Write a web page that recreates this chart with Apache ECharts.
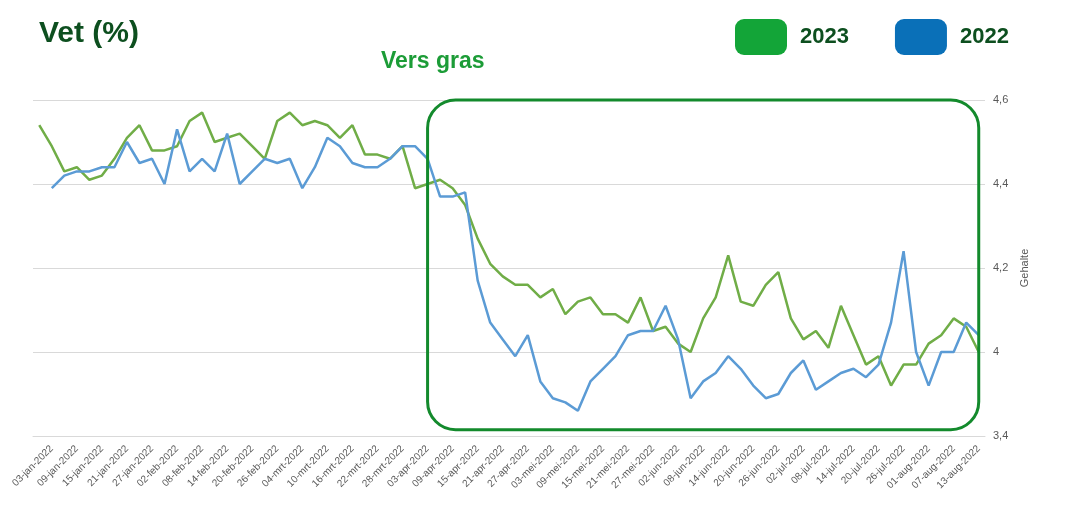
<!DOCTYPE html>
<html lang="nl">
<head>
<meta charset="UTF-8">
<title>Vet (%)</title>
<script src="https://cdn.jsdelivr.net/npm/echarts@6/dist/echarts.min.js"></script>
<style>
  html, body { margin: 0; padding: 0; background: #fff; }
  #main { width: 1070px; height: 508px; }
</style>
</head>
<body>
<div id="main"></div>
<script>
// categorie-as: elke 3 dagen, label op elke tweede
var categories = [
  '31-dec-2021', '03-jan-2022', '06-jan-2022', '09-jan-2022', '12-jan-2022', '15-jan-2022', '18-jan-2022', '21-jan-2022',
  '24-jan-2022', '27-jan-2022', '30-jan-2022', '02-feb-2022', '05-feb-2022', '08-feb-2022', '11-feb-2022', '14-feb-2022',
  '17-feb-2022', '20-feb-2022', '23-feb-2022', '26-feb-2022', '01-mrt-2022', '04-mrt-2022', '07-mrt-2022', '10-mrt-2022',
  '13-mrt-2022', '16-mrt-2022', '19-mrt-2022', '22-mrt-2022', '25-mrt-2022', '28-mrt-2022', '31-mrt-2022', '03-apr-2022',
  '06-apr-2022', '09-apr-2022', '12-apr-2022', '15-apr-2022', '18-apr-2022', '21-apr-2022', '24-apr-2022', '27-apr-2022',
  '30-apr-2022', '03-mei-2022', '06-mei-2022', '09-mei-2022', '12-mei-2022', '15-mei-2022', '18-mei-2022', '21-mei-2022',
  '24-mei-2022', '27-mei-2022', '30-mei-2022', '02-jun-2022', '05-jun-2022', '08-jun-2022', '11-jun-2022', '14-jun-2022',
  '17-jun-2022', '20-jun-2022', '23-jun-2022', '26-jun-2022', '29-jun-2022', '02-jul-2022', '05-jul-2022', '08-jul-2022',
  '11-jul-2022', '14-jul-2022', '17-jul-2022', '20-jul-2022', '23-jul-2022', '26-jul-2022', '29-jul-2022', '01-aug-2022',
  '04-aug-2022', '07-aug-2022', '10-aug-2022', '13-aug-2022'
];

var vet2023 = [
  4.54, 4.49, 4.43, 4.44, 4.41, 4.42, 4.46, 4.51, 4.54, 4.48,
  4.48, 4.49, 4.55, 4.57, 4.50, 4.51, 4.52, 4.49, 4.46, 4.55,
  4.57, 4.54, 4.55, 4.54, 4.51, 4.54, 4.47, 4.47, 4.46, 4.49,
  4.39, 4.40, 4.41, 4.39, 4.35, 4.27, 4.21, 4.18, 4.16, 4.16,
  4.13, 4.15, 4.09, 4.12, 4.13, 4.09, 4.09, 4.07, 4.13, 4.05,
  4.06, 4.02, 4.00, 4.08, 4.13, 4.23, 4.12, 4.11, 4.16, 4.19,
  4.08, 4.03, 4.05, 4.01, 4.11, 4.04, 3.97, 3.99, 3.92, 3.97,
  3.97, 4.02, 4.04, 4.08, 4.06, 4.00
];

var vet2022 = [
  null, 4.39, 4.42, 4.43, 4.43, 4.44, 4.44, 4.50, 4.45, 4.46,
  4.40, 4.53, 4.43, 4.46, 4.43, 4.52, 4.40, 4.43, 4.46, 4.45,
  4.46, 4.39, 4.44, 4.51, 4.49, 4.45, 4.44, 4.44, 4.46, 4.49,
  4.49, 4.46, 4.37, 4.37, 4.38, 4.17, 4.07, 4.03, 3.99, 4.04,
  3.93, 3.89, 3.88, 3.86, 3.93, 3.96, 3.99, 4.04, 4.05, 4.05,
  4.11, 4.03, 3.89, 3.93, 3.95, 3.99, 3.96, 3.92, 3.89, 3.90,
  3.95, 3.98, 3.91, 3.93, 3.95, 3.96, 3.94, 3.97, 4.07, 4.24,
  4.00, 3.92, 4.00, 4.00, 4.07, 4.04
];

// y-as labels zoals in het origineel
var yTickValues = [3.8, 4, 4.2, 4.4, 4.6];
var yTickLabels = ['3,4', '4', '4,2', '4,4', '4,6'];

// kader rond "Vers gras"
var boxFrom = '03-apr-2022';
var boxTo = '13-aug-2022';
var boxTop = 4.6;
var boxBottom = 3.815;

var headFont = "'Liberation Sans', Arial, sans-serif";

var chartDom = document.getElementById('main');
var myChart = echarts.init(chartDom);
var option = {
  animation: false,
  backgroundColor: '#ffffff',
  title: [
    {
      text: 'Vet (%)',
      left: 34, top: 14,
      textStyle: { fontFamily: headFont, fontWeight: 'bold', fontSize: 30, color: '#0d4f1f' }
    },
    {
      text: 'Vers gras',
      left: 376, top: 45,
      textStyle: { fontFamily: headFont, fontWeight: 'bold', fontSize: 23, color: '#1c9c37' }
    }
  ],
  legend: {
    left: 730, top: 14,
    icon: 'roundRect',
    itemWidth: 52, itemHeight: 36,
    itemGap: 46,
    textStyle: { fontFamily: headFont, fontWeight: 'bold', fontSize: 22, color: '#0d4f1f', padding: [0, 0, 0, 8] },
    data: [
      { name: '2023', itemStyle: { color: '#13a538' } },
      { name: '2022', itemStyle: { color: '#0a70b8' } }
    ]
  },
  grid: { left: 33, right: 85, top: 100, bottom: 72 },
  xAxis: {
    type: 'category',
    data: categories,
    boundaryGap: true,
    axisTick: { show: false },
    axisLine: { lineStyle: { color: '#d9d9d9', width: 1 } },
    axisLabel: {
      interval: function (index) { return index % 2 === 1; },
      rotate: 45,
      margin: 11,
      fontSize: 10,
      fontFamily: 'Liberation Sans, sans-serif',
      color: '#595959'
    }
  },
  yAxis: {
    type: 'value',
    position: 'right',
    min: 3.8, max: 4.6, interval: 0.2,
    name: 'Gehalte',
    nameLocation: 'middle',
    nameRotate: 90,
    nameGap: 25,
    nameTextStyle: { fontSize: 11, color: '#595959', fontFamily: 'Liberation Sans, sans-serif' },
    axisLine: { show: false },
    axisTick: { show: false },
    splitLine: { lineStyle: { color: '#d9d9d9', width: 1 } },
    axisLabel: {
      margin: 8,
      fontSize: 11,
      fontFamily: 'Liberation Sans, sans-serif',
      color: '#595959',
      formatter: function (v) {
        for (var i = 0; i < yTickValues.length; i++) {
          if (Math.abs(yTickValues[i] - v) < 1e-6) return yTickLabels[i];
        }
        return '';
      }
    }
  },
  series: [
    {
      name: '2023',
      type: 'line',
      data: vet2023,
      symbol: 'none',
      lineStyle: { color: '#70ad47', width: 2.5 },
      itemStyle: { color: '#70ad47' }
    },
    {
      name: '2022',
      type: 'line',
      data: vet2022,
      symbol: 'none',
      lineStyle: { color: '#5b9bd5', width: 2.5 },
      itemStyle: { color: '#5b9bd5' }
    }
  ]
};
myChart.setOption(option);

// kader berekenen uit de assen
var p1 = myChart.convertToPixel({ gridIndex: 0 }, [boxFrom, boxTop]);
var p2 = myChart.convertToPixel({ gridIndex: 0 }, [boxTo, boxBottom]);
myChart.setOption({
  graphic: [{
    type: 'rect',
    z: 100,
    shape: { x: p1[0], y: p1[1], width: p2[0] - p1[0], height: p2[1] - p1[1], r: 28 },
    style: { fill: 'none', stroke: '#138a2c', lineWidth: 3 }
  }]
});
</script>
</body>
</html>
